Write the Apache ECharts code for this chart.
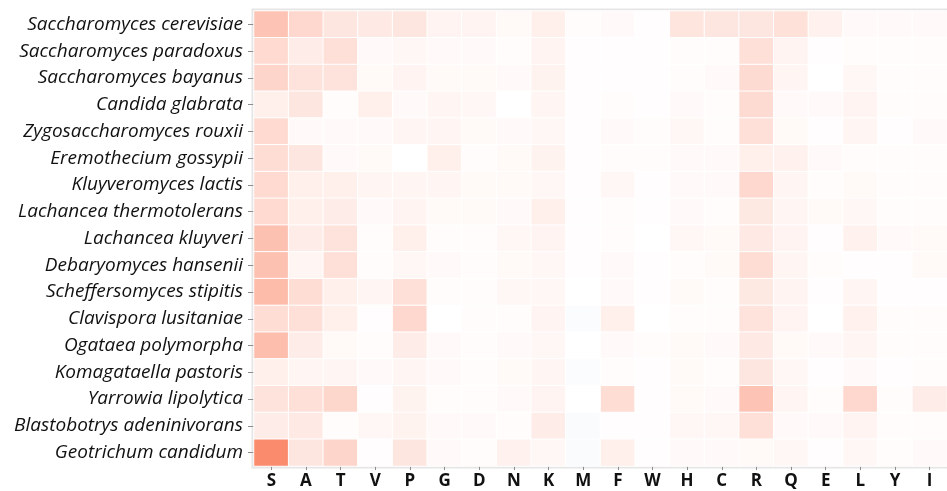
<!DOCTYPE html>
<html>
<head>
<meta charset="utf-8">
<title>Amino acid usage across yeast species</title>
<script src="https://cdn.jsdelivr.net/npm/echarts@6/dist/echarts.min.js"></script>
<style>
  html, body { margin: 0; padding: 0; background: #ffffff; }
  #chart { width: 947px; height: 491px; }
</style>
</head>
<body>
<div id="chart"></div>
<script>
// Amino acid residues (columns)
const residues = ['S', 'A', 'T', 'V', 'P', 'G', 'D', 'N', 'K', 'M', 'F', 'W', 'H', 'C', 'R', 'Q', 'E', 'L', 'Y', 'I'];

// Species (rows, top to bottom)
const species = [
  'Saccharomyces cerevisiae',
  'Saccharomyces paradoxus',
  'Saccharomyces bayanus',
  'Candida glabrata',
  'Zygosaccharomyces rouxii',
  'Eremothecium gossypii',
  'Kluyveromyces lactis',
  'Lachancea thermotolerans',
  'Lachancea kluyveri',
  'Debaryomyces hansenii',
  'Scheffersomyces stipitis',
  'Clavispora lusitaniae',
  'Ogataea polymorpha',
  'Komagataella pastoris',
  'Yarrowia lipolytica',
  'Blastobotrys adeninivorans',
  'Geotrichum candidum'
];

// Enrichment scores per species, in residue order
const sCerevisiae   = [38, 25, 16, 14, 16, 7, 7, 4, 10, 2, 3, 1, 17, 16, 16, 19, 9, 3, 3, 3];
const sParadoxus    = [24, 12, 20, 3, 5, 3, 3, 2, 7, 1, 1, 1, 2, 2, 20, 7, 1, 2, 2, 2];
const sBayanus      = [27, 18, 18, 4, 7, 4, 4, 3, 8, 1, 1, 1, 2, 3, 23, 6, 0, 5, 2, 2];
const cGlabrata     = [10, 16, 2, 10, 3, 6, 5, 0, 6, 1, 2, 1, 3, 2, 23, 3, 3, 7, 2, 2];
const zRouxii       = [24, 3, 3, 3, 6, 6, 4, 3, 5, 1, 3, 2, 5, 2, 20, 4, 1, 6, 1, 3];
const eGossypii     = [22, 16, 3, 4, 0, 10, 2, 4, 8, 1, 2, 2, 3, 3, 10, 9, 3, 2, 2, 2];
const kLactis       = [24, 10, 10, 6, 6, 6, 4, 4, 5, 1, 5, 1, 3, 3, 25, 6, 2, 4, 2, 2];
const lThermotol    = [24, 10, 12, 3, 7, 4, 4, 3, 10, 1, 2, 1, 3, 2, 15, 6, 4, 5, 2, 2];
const lKluyveri     = [40, 12, 18, 2, 10, 2, 2, 5, 7, 1, 2, 0, 5, 4, 14, 7, 1, 9, 3, 4];
const dHansenii     = [40, 6, 20, 2, 5, 3, 2, 4, 5, 1, 3, 1, 2, 4, 22, 6, 2, 1, 1, 4];
const sStipitis     = [44, 22, 10, 6, 20, 2, 2, 5, 5, 0, 3, 1, 4, 2, 15, 7, 1, 6, 1, 1];
const cLusitaniae   = [22, 20, 10, 1, 25, 0, 2, 2, 7, -2, 10, 0, 2, 2, 18, 7, 0, 9, 2, 2];
const oPolymorpha   = [42, 12, 4, 2, 12, 3, 2, 3, 5, 0, 3, 2, 4, 3, 14, 4, 3, 6, 2, 2];
const kPastoris     = [10, 6, 6, 3, 6, 3, 2, 4, 6, -2, 2, 1, 4, 2, 16, 5, 1, 3, 1, 2];
const yLipolytica   = [18, 20, 26, 1, 8, 2, 2, 3, 7, 0, 22, 1, 4, 3, 38, 6, 2, 25, 2, 12];
const bAdeninivor   = [12, 14, 2, 5, 8, 3, 3, 2, 12, -3, 1, 1, 5, 5, 20, 3, 3, 7, 2, 2];
const gCandidum     = [75, 16, 27, 1, 16, 3, 2, 9, 5, -3, 10, 1, 3, 3, 4, 5, 1, 5, 2, 3];

const speciesRows = [
  sCerevisiae, sParadoxus, sBayanus, cGlabrata, zRouxii, eGossypii, kLactis,
  lThermotol, lKluyveri, dHansenii, sStipitis, cLusitaniae, oPolymorpha,
  kPastoris, yLipolytica, bAdeninivor, gCandidum
];

// Flatten into [residueIndex, speciesIndex, value] triples
const cells = [];
speciesRows.forEach(function (row, yi) {
  row.forEach(function (v, xi) {
    cells.push([xi, yi, v]);
  });
});

const chart = echarts.init(document.getElementById('chart'), null, { renderer: 'canvas' });

chart.setOption({
  animation: false,
  backgroundColor: '#ffffff',
  grid: {
    left: 254,
    top: 11,
    right: -7.5,
    bottom: 25,
    show: true,
    backgroundColor: '#ffffff',
    borderColor: '#e6e6e6',
    borderWidth: 5
  },
  xAxis: [
    {
      type: 'category',
      data: residues,
      position: 'bottom',
      axisLine: { show: false },
      axisTick: { show: true, alignWithLabel: true, length: 4, lineStyle: { color: '#8c8c8c' } },
      axisLabel: {
        color: '#111111',
        fontFamily: 'Open Sans',
        fontWeight: 'bold',
        fontSize: 17,
        margin: 7
      },
      splitLine: { show: false }
    },
    {
      type: 'category',
      data: residues,
      position: 'top',
      axisLine: { show: false },
      axisTick: { show: true, alignWithLabel: true, inside: true, length: 3, lineStyle: { color: '#ffffff', width: 1.5 } },
      axisLabel: { show: false }
    }
  ],
  yAxis: {
    type: 'category',
    data: species,
    inverse: true,
    axisLine: { show: false },
    axisTick: { show: true, alignWithLabel: true, length: 6, lineStyle: { color: '#8c8c8c' } },
    axisLabel: {
      color: '#111111',
      fontFamily: 'Open Sans',
      fontStyle: 'italic',
      fontSize: 19,
      margin: 11
    },
    splitLine: { show: false }
  },
  visualMap: {
    show: false,
    type: 'continuous',
    min: -100,
    max: 100,
    dimension: 2,
    inRange: { color: ['#3b6fb6', '#ffffff', '#fa643c'] }
  },
  series: [{
    type: 'heatmap',
    xAxisIndex: 0,
    data: cells,
    itemStyle: { borderColor: '#ffffff', borderWidth: 1 },
    emphasis: { disabled: true }
  }]
});
</script>
</body>
</html>
